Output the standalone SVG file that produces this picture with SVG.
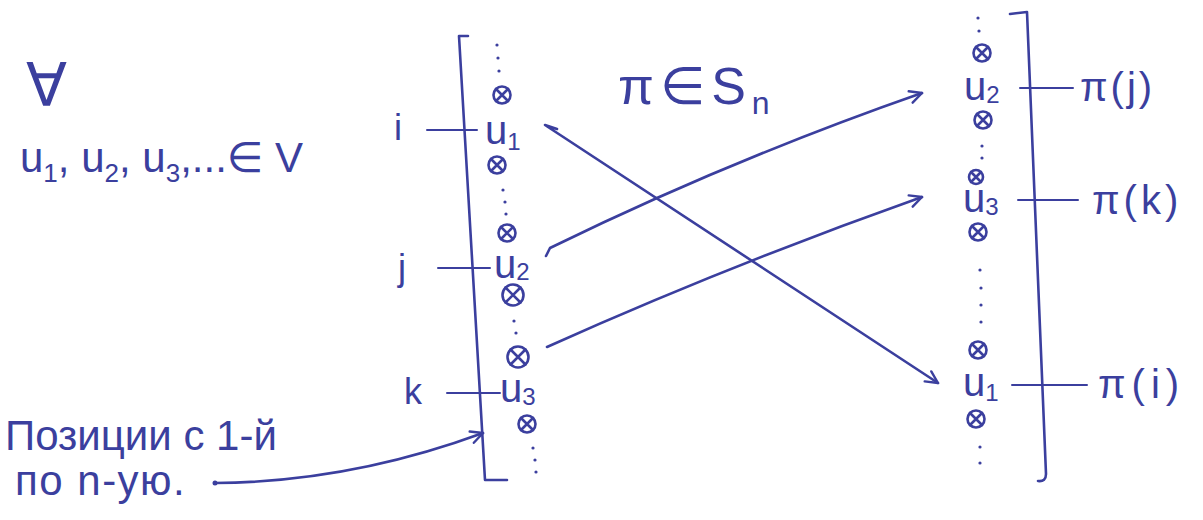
<svg xmlns="http://www.w3.org/2000/svg" width="1203" height="520" viewBox="0 0 1203 520">
<defs>
<style>
.ink{stroke:#3b3f9e;stroke-width:2.6;fill:none;stroke-linecap:round;stroke-linejoin:round}
.thin{stroke:#3b3f9e;stroke-width:2;fill:none;stroke-linecap:round}
.t{fill:#3b3f9e;font-family:"Liberation Sans","DejaVu Sans",sans-serif}
.dot{fill:#3b3f9e}
</style>
<g id="ox"><circle r="8.5" class="ink"/><path d="M-6,-6 L6,6 M6,-6 L-6,6" class="ink"/></g>
<g id="oxs"><circle r="7" class="ink"/><path d="M-5,-5 L5,5 M5,-5 L-5,5" class="ink"/></g>
<g id="oxb"><circle r="10.5" class="ink"/><path d="M-7.5,-7.5 L7.5,7.5 M7.5,-7.5 L-7.5,7.5" class="ink"/></g>
<marker id="ah" markerWidth="16" markerHeight="16" refX="14" refY="8" orient="auto" markerUnits="userSpaceOnUse">
<path d="M2,2 L14,8 L2,14" fill="none" stroke="#3b3f9e" stroke-width="2.4" stroke-linecap="round" stroke-linejoin="round"/>
</marker>
</defs>
<rect width="1203" height="520" fill="#ffffff"/>

<g id="header">
<text class="t" x="26" y="106" font-size="60">∀</text>
<text class="t" x="20" y="172" font-size="42">u<tspan font-size="26" dy="10">1</tspan><tspan dy="-10">, u</tspan><tspan font-size="26" dy="10">2</tspan><tspan dy="-10">, u</tspan><tspan font-size="26" dy="10">3</tspan><tspan dy="-10">,...∈ V</tspan></text>
<text class="t" x="618" y="104" font-size="52" letter-spacing="6">π∈S<tspan font-size="32" dy="10">n</tspan></text>
</g>

<g id="note">
<text class="t" x="5" y="450" font-size="42">Позиции с 1-й</text>
<text class="t" x="15" y="495" font-size="42" letter-spacing="1.5">по n-ую.</text>
</g>

<g id="left-column">
<path class="ink" d="M468,36 L459,36 L485,480 L507,480"/>
<circle class="dot" cx="497" cy="45" r="1.6"/><circle class="dot" cx="498" cy="58" r="1.6"/><circle class="dot" cx="499" cy="71" r="1.6"/>
<use href="#ox" x="502" y="95"/>
<path class="thin" d="M427,130 L477,130"/>
<text class="t" x="394" y="140" font-size="36">i</text>
<text class="t" x="485" y="144" font-size="40">u<tspan font-size="24" dy="6">1</tspan></text>
<use href="#ox" x="497" y="165"/>
<circle class="dot" cx="503" cy="190" r="1.6"/><circle class="dot" cx="505" cy="202" r="1.6"/><circle class="dot" cx="506" cy="214" r="1.6"/>
<use href="#ox" x="507" y="233"/>
<path class="thin" d="M438,268 L490,268"/>
<text class="t" x="398" y="280" font-size="36">j</text>
<text class="t" x="494" y="278" font-size="40">u<tspan font-size="24" dy="2">2</tspan></text>
<use href="#oxb" x="513" y="295"/>
<circle class="dot" cx="514" cy="321" r="1.6"/><circle class="dot" cx="516" cy="333" r="1.6"/>
<use href="#oxb" x="518" y="357"/>
<path class="thin" d="M447,393 L500,393"/>
<text class="t" x="404" y="404" font-size="36">k</text>
<text class="t" x="500" y="402" font-size="40">u<tspan font-size="24" dy="3">3</tspan></text>
<use href="#ox" x="527" y="424"/>
<circle class="dot" cx="533" cy="448" r="1.6"/><circle class="dot" cx="535" cy="460" r="1.6"/><circle class="dot" cx="536" cy="472" r="1.6"/>
</g>

<g id="right-column">
<path class="ink" d="M1010,14 L1027,12 L1046,474 Q1046,482 1038,481"/>
<circle class="dot" cx="978" cy="18" r="1.6"/><circle class="dot" cx="979" cy="31" r="1.6"/>
<use href="#ox" x="982" y="53"/>
<text class="t" x="964" y="100" font-size="40">u<tspan font-size="24" dy="3">2</tspan></text>
<path class="thin" d="M1020,88 L1073,88"/>
<text class="t" x="1080" y="101" font-size="40" letter-spacing="3">π(j)</text>
<use href="#ox" x="983" y="120"/>
<circle class="dot" cx="982" cy="146" r="1.6"/><circle class="dot" cx="982" cy="158" r="1.6"/>
<use href="#oxs" x="976" y="177"/>
<text class="t" x="963" y="212" font-size="40">u<tspan font-size="24" dy="3">3</tspan></text>
<path class="thin" d="M1018,200 L1078,200"/>
<text class="t" x="1092" y="214" font-size="40" letter-spacing="4">π(k)</text>
<use href="#ox" x="978" y="232"/>
<circle class="dot" cx="980" cy="270" r="1.6"/><circle class="dot" cx="981" cy="288" r="1.6"/><circle class="dot" cx="981" cy="305" r="1.6"/><circle class="dot" cx="981" cy="322" r="1.6"/>
<use href="#ox" x="978" y="350"/>
<text class="t" x="963" y="396" font-size="40">u<tspan font-size="24" dy="5">1</tspan></text>
<path class="thin" d="M1012,385 L1087,385"/>
<text class="t" x="1098" y="398" font-size="40" letter-spacing="6">π(i)</text>
<use href="#ox" x="976" y="419"/>
<circle class="dot" cx="980" cy="447" r="1.6"/><circle class="dot" cx="980" cy="463" r="1.6"/>
</g>

<g id="connectors">
<path class="ink" d="M557,129 L545,125 L938,383" marker-end="url(#ah)"/>
<path class="ink" d="M546,256 L550,248 Q730,160 922,93" marker-end="url(#ah)"/>
<path class="ink" d="M547,347 Q730,265 922,197" marker-end="url(#ah)"/>
<circle class="dot" cx="215" cy="483" r="2.5"/>
<path class="ink" d="M215,483 Q350,482 483,433" marker-end="url(#ah)"/>
</g>
</svg>
